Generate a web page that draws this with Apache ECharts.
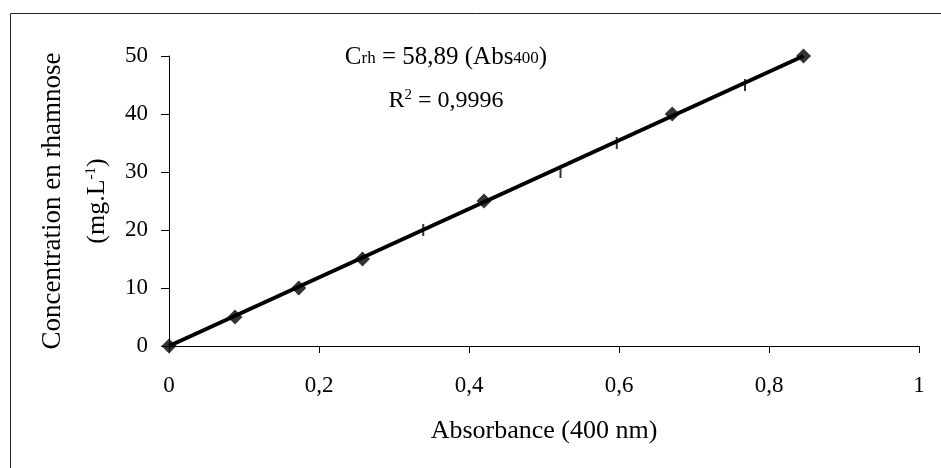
<!DOCTYPE html>
<html>
<head>
<meta charset="utf-8">
<script src="https://cdn.jsdelivr.net/npm/echarts@6/dist/echarts.min.js"></script>
<style>
html,body{margin:0;padding:0;background:#fff;}
#c{width:941px;height:468px;}
</style>
</head>
<body>
<div id="c"></div>
<script>
// Data
const diamondAbs  = [0, 0.088, 0.173, 0.258, 0.420, 0.671, 0.846];
const diamondConc = [0, 5, 10, 15, 25, 40, 50];
const dashAbs  = [0.339, 0.522, 0.597, 0.768];
const dashConc = [20, 30, 35, 45];
// Trend line end points
const trendAbs  = [0, 0.846];
const trendConc = [0, 50];
const xTicks = [0, 0.2, 0.4, 0.6, 0.8, 1];
const yTicks = [0, 10, 20, 30, 40, 50];

const FONT = "'Liberation Serif','Times New Roman',serif";
const pair = (xs, ys) => xs.map((x, i) => [x, ys[i]]);
const fmt = v => String(Math.round(v * 10) / 10).replace('.', ',');

const chart = echarts.init(document.getElementById('c'), null, {renderer: 'canvas'});
chart.setOption({
  backgroundColor: '#fff',
  animation: false,
  grid: {left: 169, right: 22, top: 56, bottom: 122, containLabel: false},
  xAxis: {
    type: 'value', min: xTicks[0], max: xTicks[xTicks.length - 1], interval: 0.2,
    name: 'Absorbance (400 nm)', nameLocation: 'middle', nameGap: 72,
    nameTextStyle: {fontFamily: FONT, fontSize: 26, color: '#000'},
    axisLine: {show: true, onZero: false, lineStyle: {color: '#000', width: 1}},
    axisTick: {show: true, length: 7, lineStyle: {color: '#000', width: 1}},
    axisLabel: {fontFamily: FONT, fontSize: 23, color: '#000', margin: 28, formatter: fmt},
    splitLine: {show: false}
  },
  yAxis: {
    type: 'value', min: yTicks[0], max: yTicks[yTicks.length - 1], interval: 10,
    name: '{t|Concentration en rhamnose}\n{a|(mg.L}{s|-1}{a|)}',
    nameLocation: 'middle', nameRotate: 90, nameGap: 50,
    nameTextStyle: {
      fontFamily: FONT, fontSize: 26, color: '#000',
      rich: {
        t: {fontFamily: FONT, fontSize: 27, lineHeight: 44, color: '#000'},
        a: {fontFamily: FONT, fontSize: 26, lineHeight: 44, color: '#000'},
        s: {fontFamily: FONT, fontSize: 15, lineHeight: 44, color: '#000', verticalAlign: 'top', padding: [9, 0, 0, 0]}
      }
    },
    axisLine: {show: true, onZero: false, lineStyle: {color: '#000', width: 1}},
    axisTick: {show: true, length: 8, lineStyle: {color: '#000', width: 1}},
    axisLabel: {fontFamily: FONT, fontSize: 23, color: '#000', margin: 21},
    splitLine: {show: false}
  },
  series: [
    {
      type: 'line', data: pair(trendAbs, trendConc), symbol: 'none',
      lineStyle: {color: '#000', width: 4}, silent: true, z: 2
    },
    {
      type: 'scatter', data: pair(diamondAbs, diamondConc), symbol: 'diamond',
      symbolSize: [15, 15], itemStyle: {color: '#000'}, z: 3
    },
    {
      type: 'scatter', data: pair(dashAbs, dashConc), symbol: 'rect',
      symbolSize: [2, 12], itemStyle: {color: '#000'}, z: 3
    }
  ],
  graphic: [
    {
      type: 'rect', shape: {x: 10.5, y: 13.5, width: 1000, height: 1000},
      style: {fill: 'none', stroke: '#222', lineWidth: 1}, z: 0, silent: true
    },
    {
      type: 'text', x: 446, y: 57,
      style: {
        text: '{m|C}{b|rh}{m| = 58,89 (Abs}{b|400}{m|)}',
        align: 'center', verticalAlign: 'middle',
        rich: {
          m: {fontFamily: FONT, fontSize: 25, lineHeight: 26, fill: '#000', color: '#000'},
          b: {fontFamily: FONT, fontSize: 17, lineHeight: 17, fill: '#000', color: '#000', verticalAlign: 'bottom', padding: [0, 0, 3, 0]}
        }
      }, z: 10
    },
    {
      type: 'text', x: 446, y: 101,
      style: {
        text: '{m|R}{p|2}{m| = 0,9996}',
        align: 'center', verticalAlign: 'middle',
        rich: {
          m: {fontFamily: FONT, fontSize: 24, lineHeight: 26, fill: '#000', color: '#000'},
          p: {fontFamily: FONT, fontSize: 15, lineHeight: 26, fill: '#000', color: '#000', verticalAlign: 'top', padding: [0, 0, 0, 0]}
        }
      }, z: 10
    }
  ]
});
</script>
</body>
</html>
